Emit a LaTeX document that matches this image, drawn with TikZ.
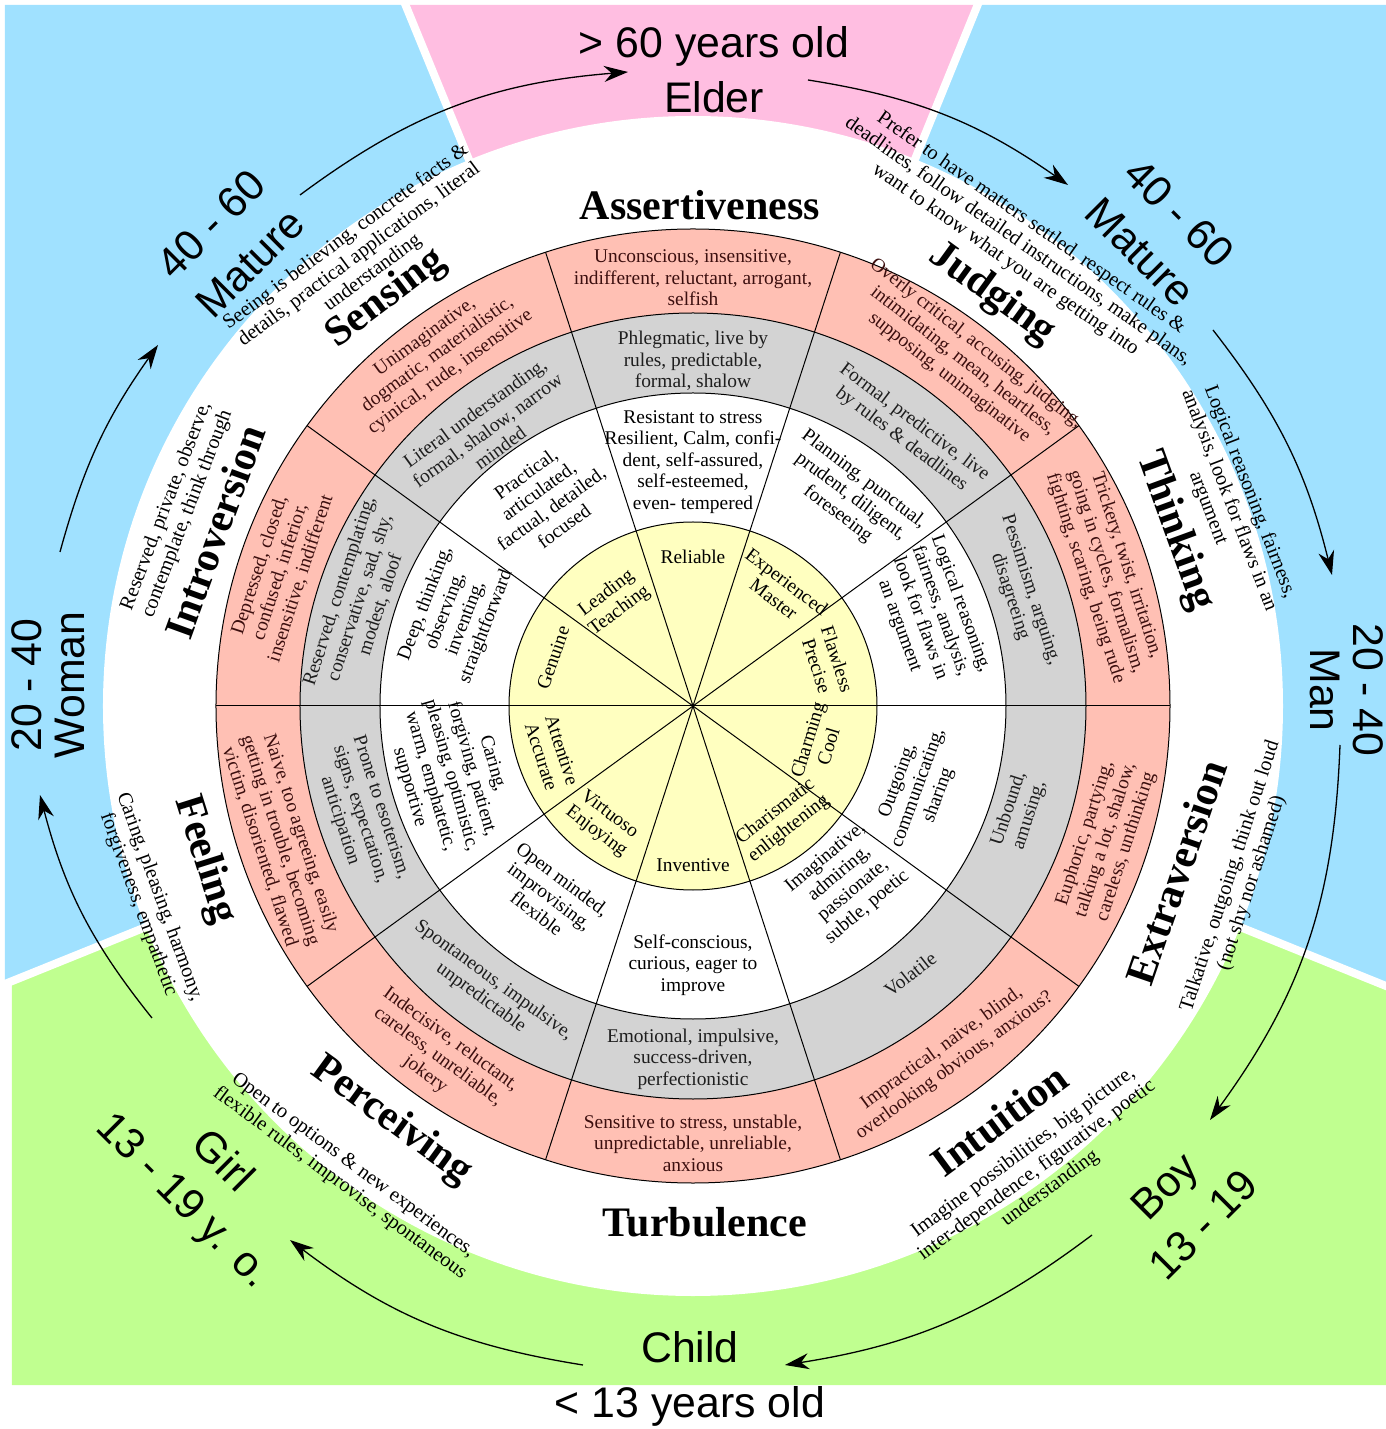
\documentclass[tikz,border=0pt]{standalone}
\usepackage{fontspec}
\setmainfont{Liberation Serif}
\newfontfamily\agefont{Liberation Sans}
\usetikzlibrary{arrows.meta}
\definecolor{ringred}{RGB}{255,192,180}
\definecolor{ringgray}{RGB}{211,211,211}
\definecolor{ringyellow}{RGB}{255,255,192}
\definecolor{agesky}{RGB}{160,225,255}
\definecolor{agepink}{RGB}{255,190,225}
\definecolor{agegreen}{RGB}{192,255,144}
\definecolor{redink}{RGB}{60,15,15}
\definecolor{grayink}{RGB}{30,30,30}
\tikzset{
  ringline/.style={draw=black, line width=0.5pt},
  gapline/.style={draw=white, line width=4pt},
  ringtext/.style={align=center, inner sep=0pt, font=\fontsize{9.7}{10.8}\selectfont},
  redtext/.style={ringtext, text=redink},
  graytext/.style={ringtext, text=grayink},
  dimlabel/.style={inner sep=0pt, font=\fontsize{21}{24}\selectfont\bfseries},
  desctext/.style={align=center, inner sep=0pt, font=\fontsize{10.2}{11.2}\selectfont},
  agelabel/.style={align=center, inner sep=0pt, font=\agefont\fontsize{21.4}{27.5}\selectfont},
  sidelabel/.style={align=center, inner sep=0pt, font=\agefont\fontsize{21.4}{21.5}\selectfont},
  agearrow/.style={-{Stealth[length=12pt,width=8pt]}, line width=0.65pt}
}
\begin{document}
\begin{tikzpicture}[x=0.5pt,y=0.5pt]
\useasboundingbox (-693,-723) rectangle (693,706);
\fill[agesky] (0,0) -- (-288,701) -- (-688,701) -- (-688,-278) -- cycle;
\fill[agesky] (0,0) -- (285,701) -- (693,701) -- (693,-279) -- cycle;
\fill[agepink] (0,0) -- (-288,701) -- (285,701) -- cycle;
\fill[agegreen] (0,0) -- (-681,-275) -- (-681,-679) -- (693,-679) -- (693,-279) -- cycle;
\draw[gapline] (0,0) -- (112.3:800) (0,0) -- (67.9:800) (0,0) -- (202:800) (0,0) -- (-22:800);
\fill[white] (0,0) circle[radius=590];
\filldraw[fill=ringred, ringline] (0,0) circle[radius=477];
\filldraw[fill=ringgray, ringline] (0,0) circle[radius=393];
\filldraw[fill=white, ringline] (0,0) circle[radius=313];
\filldraw[fill=ringyellow, ringline] (0,0) circle[radius=184];
\foreach \a in {0,36,...,324} \draw[ringline] (0,0) -- (\a:477);

\node[redtext] (unconscious) at (90:428) {Unconscious, insensitive,\\indifferent, reluctant, arrogant,\\selfish};
\node[redtext, rotate=-38] (overly) at (52:438) {Overly critical, accusing, judging,\\intimidating, mean, heartless,\\supposing, unimaginative};
\node[redtext, rotate=-72] (trickery) at (18:434) {Trickery, twist, irritation,\\going in cycles, formalism,\\fighting, scaring, being rude};
\node[redtext, rotate=72] (euphoric) at (-18:434) {Euphoric, partying,\\talking a lot, shalow,\\careless, unthinking};
\node[redtext, rotate=36] (impractical) at (-54:434) {Impractical, naive, blind,\\overlooking obvious, anxious?};
\node[redtext] (sensitive) at (-90:437) {Sensitive to stress, unstable,\\unpredictable, unreliable,\\anxious};
\node[redtext, rotate=-36] (indecisive) at (-126:434) {Indecisive, reluctant,\\careless, unreliable,\\jokery};
\node[redtext, rotate=-72] (naive) at (-162:434) {Naive, too agreeing, easily\\getting in trouble, becoming\\victim, disoriented, flawed};
\node[redtext, rotate=72] (depressed) at (162:434) {Depressed, closed,\\confused, inferior,\\insensitive, indifferent};
\node[redtext, rotate=36] (unimaginative) at (126:434) {Unimaginative,\\dogmatic, materialistic,\\cyinical, rude, insensitive};

\node[graytext] (phlegmatic) at (90:345) {Phlegmatic, live by\\rules, predictable,\\formal, shalow};
\node[graytext, rotate=-37] (formal) at (52:349) {Formal, predictive, live\\by rules \& deadlines};
\node[graytext, rotate=-72] (pessimism) at (19:346) {Pessimism, arguing,\\disagreeing};
\node[graytext, rotate=72] (unbound) at (-18:343) {Unbound,\\amusing,};
\node[graytext, rotate=38] (volatile) at (-51:345) {Volatile};
\node[graytext] (emotional) at (-90:353) {Emotional, impulsive,\\success-driven,\\perfectionistic};
\node[graytext, rotate=-36] (spontaneous) at (-126:350) {Spontaneous, impulsive,\\unpredictable};
\node[graytext, rotate=-72] (prone) at (-162:350) {Prone to esoterism,\\signs, expectation,\\anticipation};
\node[graytext, rotate=72] (reserved) at (162:350) {Reserved, contemplating,\\conservative, sad, shy,\\modest, aloof};
\node[graytext, rotate=36] (literal) at (126.7:344) {Literal understanding,\\formal, shalow, narrow\\minded};

\node[ringtext] (resistant) at (90:244) {Resistant to stress\\Resilient, Calm, confi-\\dent, self-assured,\\self-esteemed,\\even- tempered};
\node[ringtext, rotate=-37] (planning) at (53:262) {Planning, punctual,\\prudent, diligent,\\foreseeing};
\node[ringtext, rotate=-70] (logical) at (21:254) {Logical reasoning,\\fairness, analysis,\\look for flaws in\\an argument};
\node[ringtext, rotate=70] (outgoing) at (-20:240) {Outgoing,\\communicating,\\sharing};
\node[ringtext, rotate=40] (imaginative) at (-49:234) {Imaginative,\\admiring,\\passionate,\\subtle, poetic};
\node[ringtext] (selfconscious) at (-90:259) {Self-conscious,\\curious, eager to\\improve};
\node[ringtext, rotate=-37] (openminded) at (-127:238) {Open minded,\\improvising,\\flexible};
\node[ringtext, rotate=-74] (caring) at (-164:252) {Caring,\\forgiving, patient,\\pleasing, optimistic,\\warm, emphatetic,\\supportive};
\node[ringtext, rotate=69] (deep) at (159:254) {Deep, thinking,\\observing,\\inventing,\\straightforward};
\node[ringtext, rotate=36] (practical) at (125.7:254) {Practical,\\articulated,\\factual, detailed,\\focused};

\node[ringtext] (reliable) at (90:149) {Reliable};
\node[ringtext, rotate=-37] (experienced) at (53:145) {Experienced\\Master};
\node[ringtext, rotate=-72] (flawless) at (18:141) {Flawless\\Precise};
\node[ringtext, rotate=73] (charming) at (-16.5:130) {Charming\\Cool};
\node[ringtext, rotate=38] (charismatic) at (-52:145) {Charismatic\\enlightening};
\node[ringtext] (inventive) at (-90:159) {Inventive};
\node[ringtext, rotate=-37] (virtuoso) at (-127.6:148) {Virtuoso\\Enjoying};
\node[ringtext, rotate=-72] (attentive) at (-161.5:149) {Attentive\\Accurate};
\node[ringtext, rotate=71] (genuine) at (161:148) {Genuine};
\node[ringtext, rotate=37] (leading) at (127.6:131) {Leading\\Teaching};

\node[dimlabel] (assertiveness) at (89.2:501) {Assertiveness};
\node[dimlabel, rotate=-36] (judging) at (54:509) {Judging};
\node[dimlabel, rotate=-70] (thinking) at (20:513) {Thinking};
\node[dimlabel, rotate=71] (extraversion) at (-19:511) {Extraversion};
\node[dimlabel, rotate=36.5] (intuition) at (-53.5:515) {Intuition};
\node[dimlabel] (turbulence) at (-88.7:516) {Turbulence};
\node[dimlabel, rotate=-36] (perceiving) at (-126:513) {Perceiving};
\node[dimlabel, rotate=-72.5] (feeling) at (-162.5:512) {Feeling};
\node[dimlabel, rotate=70] (introversion) at (160:509) {Introversion};
\node[dimlabel, rotate=37] (sensing) at (127:510) {Sensing};

\node[desctext, rotate=36.5] (sensingdesc) at (126.5:561) {Seeing is believing, concrete facts \&\\details, practical applications, literal\\understanding};
\node[desctext, rotate=-35] (judgingdesc) at (55:567) {Prefer to have matters settled, respect rules \&\\deadlines, follow detailed instructions, make plans,\\want to know what you are getting into};
\node[desctext, rotate=-69] (thinkingdesc) at (21:574) {Logical reasoning, fairness,\\analysis, look for flaws in an\\argument};
\node[desctext, rotate=72] (extraversiondesc) at (-17.6:575) {Talkative, outgoing, think out loud\\(not shy nor ashamed)};
\node[desctext, rotate=36.5] (intuitiondesc) at (-53.5:578) {Imagine possibilities, big picture,\\inter-dependence, figurative, poetic\\understanding};
\node[desctext, rotate=-36.5] (perceivingdesc) at (-126.5:583) {Open to options \& new experiences,\\flexible rules, improvise, spontaneous};
\node[desctext, rotate=-70] (feelingdesc) at (-160.3:578) {Caring, pleasing, harmony,\\forgiveness, empathetic};
\node[desctext, rotate=69] (introversiondesc) at (159.2:552) {Reserved, private, observe,\\contemplate, think through};

\node[agelabel] (elder) at (21,636) {> 60 years old\\Elder};
\node[agelabel, rotate=45] (matureleft) at (135:654) {40 - 60\\Mature};
\node[agelabel, rotate=-45] (matureright) at (45.4:665) {40 - 60\\Mature};
\node[sidelabel, rotate=-90] (man) at (654,16) {20 - 40\\Man};
\node[agelabel, rotate=45] (boy) at (-45.5:700) {Boy\\13 - 19};
\node[agelabel] (child) at (-3,-673) {Child\\< 13 years old};
\node[agelabel, rotate=-45] (girl) at (-135.9:684) {Girl\\13 - 19 y. o.};
\node[sidelabel, rotate=90] (woman) at (-645,21) {20 - 40\\Woman};

\coordinate (fromml) at (-393,511);
\coordinate (toelder) at (-65,634);
\coordinate (fromelder) at (115,626);
\coordinate (tomr) at (375,521);
\coordinate (frommr) at (520,376);
\coordinate (toman) at (639,131);
\coordinate (fromman) at (647,-39);
\coordinate (toboy) at (517,-414);
\coordinate (fromboy) at (399,-529);
\coordinate (tochild) at (92,-659);
\coordinate (fromchild) at (-110,-659);
\coordinate (togirl) at (-403,-534);
\coordinate (fromgirl) at (-541,-312);
\coordinate (towoman) at (-653,-89);
\coordinate (fromwoman) at (-633,154);
\coordinate (toml) at (-535,361);
\draw[agearrow] (fromml) to[bend left=16] (toelder);
\draw[agearrow] (fromelder) to[bend left=13] (tomr);
\draw[agearrow] (frommr) to[bend left=12] (toman);
\draw[agearrow] (fromman) to[bend left=17] (toboy);
\draw[agearrow] (fromboy) to[bend left=14] (tochild);
\draw[agearrow] (fromchild) to[bend left=14] (togirl);
\draw[agearrow] (fromgirl) to[bend left=12] (towoman);
\draw[agearrow] (fromwoman) to[bend left=10] (toml);
\end{tikzpicture}
\end{document}
